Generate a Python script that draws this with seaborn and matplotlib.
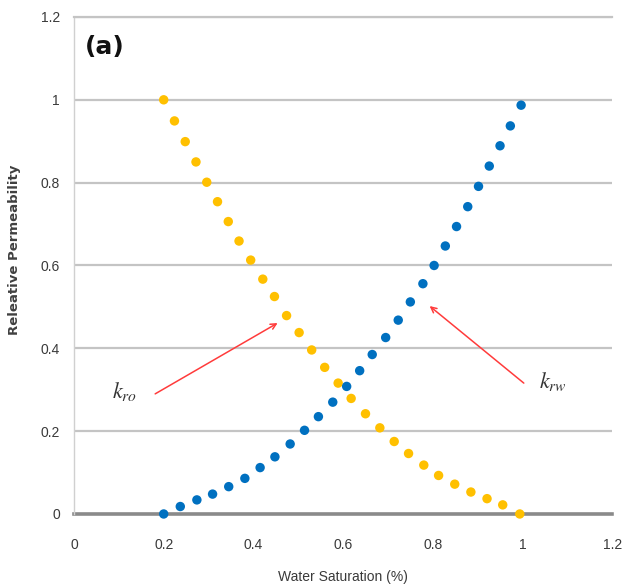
import numpy as np
import pandas as pd
import matplotlib
matplotlib.use("Agg")
import matplotlib.pyplot as plt
import seaborn as sns

# water saturation / relative permeability
sw_ro = [0.200, 0.224, 0.248, 0.272, 0.296, 0.320, 0.344, 0.368, 0.394, 0.421,
         0.447, 0.474, 0.502, 0.530, 0.559, 0.589, 0.618, 0.650, 0.682, 0.714,
         0.746, 0.780, 0.813, 0.849, 0.885, 0.921, 0.956, 0.994]
kro = [1.000, 0.949, 0.899, 0.850, 0.801, 0.754, 0.706, 0.659, 0.613, 0.567,
       0.525, 0.479, 0.438, 0.396, 0.354, 0.316, 0.279, 0.242, 0.208, 0.175,
       0.146, 0.118, 0.093, 0.072, 0.053, 0.037, 0.022, 0.000]

sw_rw = [0.200, 0.237, 0.274, 0.309, 0.345, 0.381, 0.415, 0.448, 0.482, 0.514,
         0.545, 0.577, 0.608, 0.637, 0.665, 0.695, 0.723, 0.750, 0.778, 0.803,
         0.828, 0.853, 0.878, 0.902, 0.926, 0.950, 0.973, 0.997]
krw = [0.000, 0.018, 0.034, 0.048, 0.066, 0.086, 0.112, 0.138, 0.169, 0.202,
       0.235, 0.270, 0.308, 0.346, 0.385, 0.426, 0.468, 0.512, 0.556, 0.600,
       0.647, 0.694, 0.742, 0.791, 0.840, 0.889, 0.937, 0.987]

xticks = [0, 0.2, 0.4, 0.6, 0.8, 1, 1.2]
yticks = [0, 0.2, 0.4, 0.6, 0.8, 1, 1.2]
xtick_labels = ["0", "0.2", "0.4", "0.6", "0.8", "1", "1.2"]
ytick_labels = ["0", "0.2", "0.4", "0.6", "0.8", "1", "1.2"]

sns.set_style("white")
plt.rcParams["font.family"] = ["Liberation Sans Narrow", "Liberation Sans", "DejaVu Sans"]
plt.rcParams["mathtext.fontset"] = "stix"

df_ro = pd.DataFrame({"Sw": sw_ro, "kr": kro})
df_rw = pd.DataFrame({"Sw": sw_rw, "kr": krw})

fig = plt.figure(figsize=(6.24, 5.87), dpi=100)
ax = fig.add_axes([0.1186, 0.1244, 0.8624, 0.8467])

sns.scatterplot(data=df_ro, x="Sw", y="kr", ax=ax, color="#FFC000", s=46,
                edgecolor="none", zorder=3, clip_on=False)
sns.scatterplot(data=df_rw, x="Sw", y="kr", ax=ax, color="#0070C0", s=46,
                edgecolor="none", zorder=3, clip_on=False)

ax.set_xlim(0, 1.2)
ax.set_ylim(0, 1.2)
ax.set_xticks(xticks)
ax.set_xticklabels(xtick_labels)
ax.set_yticks(yticks)
ax.set_yticklabels(ytick_labels)
ax.tick_params(axis="both", length=0, labelsize=10, labelcolor="#3a3a3a")
ax.tick_params(axis="y", pad=10)
ax.tick_params(axis="x", pad=17)

# gridlines
ax.yaxis.grid(True, color="#c4c4c4", lw=1.6)
ax.set_axisbelow(True)
ax.spines["right"].set_visible(False)
ax.spines["top"].set_color("#c4c4c4")
ax.spines["top"].set_linewidth(1.6)
ax.spines["left"].set_color("#d0d0d0")
ax.spines["left"].set_linewidth(1.0)
ax.spines["bottom"].set_color("#8a8a8a")
ax.spines["bottom"].set_linewidth(2.6)
ax.spines["bottom"].set_zorder(2)

ax.set_xlabel("Water Saturation (%)", fontsize=10, color="#3a3a3a")
ax.xaxis.set_label_coords(0.5, -0.112)
ax.set_ylabel("Releative Permeability", fontsize=9.5, fontweight="bold",
              color="#404040", family=["DejaVu Sans"])
ax.yaxis.set_label_coords(-0.098, 0.531)

ax.text(0.02, 0.94, "(a)", transform=ax.transAxes, fontsize=18,
        fontweight="bold", family=["DejaVu Sans"], va="center", ha="left",
        color="#111111")

# labels with arrows
red = "#ff3b3b"
ax.text(0.085, 0.295, r"$k_{ro}$", fontsize=16, va="center", ha="left",
        color="#333333")
ax.annotate("", xy=(0.454, 0.461), xytext=(0.181, 0.290),
            arrowprops=dict(arrowstyle="->", color=red, lw=1.1,
                            shrinkA=0, shrinkB=0))
ax.text(1.037, 0.319, r"$k_{rw}$", fontsize=16, va="center", ha="left",
        color="#333333")
ax.annotate("", xy=(0.793, 0.502), xytext=(1.003, 0.316),
            arrowprops=dict(arrowstyle="->", color=red, lw=1.1,
                            shrinkA=0, shrinkB=0))

fig.savefig("out.png", dpi=100)
